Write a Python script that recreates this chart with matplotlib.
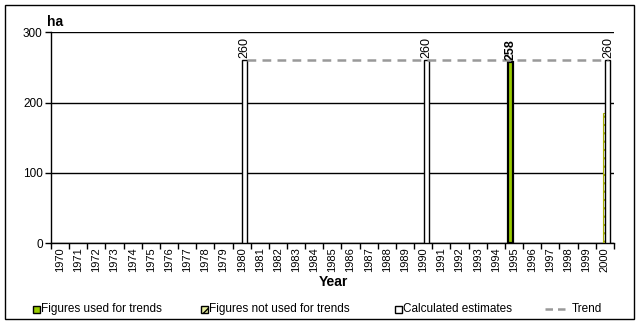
import numpy as np
import matplotlib.pyplot as plt
from matplotlib.patches import Rectangle
from matplotlib.lines import Line2D

plt.rcParams['font.family'] = ['Liberation Sans', 'DejaVu Sans']
plt.rcParams['hatch.linewidth'] = 1.0

# Data
years = list(range(1970, 2001))
used_years = [1995]
used_values = [258]
not_used_years = [2000]
not_used_values = [185]
calc_years = [1980, 1990, 2000]
calc_values = [260, 260, 260]
trend_years = [1980, 2000]
trend_values = [260, 260]

green = '#99CC00'

fig = plt.figure(figsize=(6.41, 3.24), dpi=100)
ax = fig.add_axes([0.0796, 0.25, 0.878, 0.65])

def pos(yrs, offset):
    return np.array([years.index(y) for y in yrs]) + offset

w = 0.28
# figures not used for trends (dotted)
ax.bar(pos(not_used_years, 0.03), not_used_values, width=w, facecolor='white',
       edgecolor='#A8B000', hatch='....', linewidth=0.8, zorder=3)
# calculated estimates
ax.bar(pos(calc_years, 0.17), calc_values, width=w, facecolor='white',
       edgecolor='black', linewidth=1.0, zorder=4)
# figures used for trends
ax.bar(pos(used_years, -0.2), used_values, width=w, facecolor=green,
       edgecolor='black', linewidth=1.6, zorder=4)

# trend line
tx = pos(trend_years, 0.3)
tx[-1] = pos([trend_years[-1]], 0.17)[0]
ax.plot(tx, trend_values, color='#999999', linestyle=(0, (3.5, 2.5)),
        linewidth=1.8, zorder=5)

# value labels
for x, v in zip(pos(calc_years, 0.17), calc_values):
    ax.text(x, v + 3, str(v), rotation=90, ha='center', va='bottom',
            fontsize=9, zorder=6)
for x, v in zip(pos(used_years, -0.2), used_values):
    ax.text(x, v + 3, str(v), rotation=90, ha='center', va='bottom',
            fontsize=9, fontweight='bold', zorder=6)

ax.set_ylim(0, 300)
ax.set_xlim(-0.5, len(years) - 0.5)
ax.set_yticks([0, 100, 200, 300])
ax.set_yticklabels(['0', '100', '200', '300'], fontsize=8.5)
ax.yaxis.grid(True, color='black', linewidth=1.0)
ax.set_axisbelow(True)

ax.set_xticks(np.arange(-0.5, len(years), 1.0))
ax.set_xticklabels([])
ax.set_xticks(np.arange(len(years)), minor=True)
ax.set_xticklabels([str(y) for y in years], minor=True, rotation=90, fontsize=8)
ax.tick_params(axis='x', which='major', length=4, width=1, direction='out')
ax.tick_params(axis='x', which='minor', length=0, pad=3)
ax.tick_params(axis='y', length=4, width=1, direction='out', pad=2)

for s in ['top', 'right']:
    ax.spines[s].set_visible(False)
for s in ['left', 'bottom']:
    ax.spines[s].set_linewidth(1.0)

fig.text(47 / 641, 1 - 22 / 324, 'ha', fontsize=10, fontweight='bold',
         ha='left', va='center')
fig.text(333 / 641, 1 - 282 / 324, 'Year', fontsize=10, fontweight='bold',
         ha='center', va='center')

# legend
ly = 1 - 309 / 324
sq = 7
def legend_box(x, fc, hatch=None):
    fig.patches.append(Rectangle((x / 641, ly - sq / 2 / 324), sq / 641, sq / 324,
                                 transform=fig.transFigure, facecolor=fc,
                                 edgecolor='black', linewidth=1.0, hatch=hatch))

legend_box(33, green)
fig.text(41 / 641, ly, 'Figures used for trends', fontsize=8.5, va='center')
legend_box(201, '#E8F0A0', hatch='////')
fig.text(209 / 641, ly, 'Figures not used for trends', fontsize=8.5, va='center')
legend_box(395, 'white')
fig.text(403 / 641, ly, 'Calculated estimates', fontsize=8.5, va='center')
fig.lines.append(Line2D([545 / 641, 566 / 641], [ly, ly], transform=fig.transFigure,
                        color='#999999', linestyle=(0, (3, 2)), linewidth=1.8))
fig.text(572 / 641, ly, 'Trend', fontsize=8.5, va='center')

# outer frame
fig.patches.append(Rectangle((5 / 641, 5 / 324), 629 / 641, 314 / 324,
                             transform=fig.transFigure, fill=False,
                             edgecolor='black', linewidth=1.0))

fig.savefig('out.png', dpi=100)
